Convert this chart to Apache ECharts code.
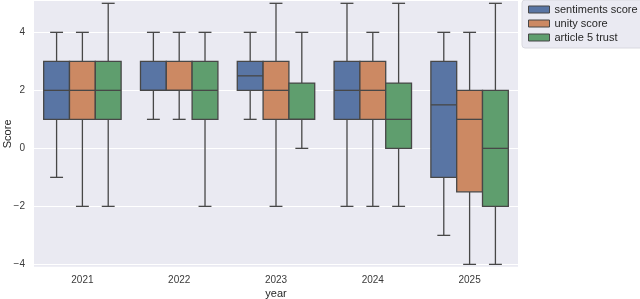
<!DOCTYPE html>
<html>
<head>
<meta charset="utf-8">
<script src="https://cdn.jsdelivr.net/npm/echarts@6/dist/echarts.min.js"></script>
<style>html,body{margin:0;padding:0;background:#fff}#c{width:640px;height:299px}</style>
</head>
<body>
<div id="c"></div>
<script>
// five-number summaries: [whisker low, Q1, median, Q3, whisker high]
const years = ['2021', '2022', '2023', '2024', '2025'];
const sentimentsScore = [[-1, 1, 2, 3, 4], [1, 2, 2, 3, 4], [1, 2, 2.5, 3, 4], [-2, 1, 2, 3, 5], [-3, -1, 1.5, 3, 4]];
const unityScore = [[-2, 1, 2, 3, 4], [1, 2, 2, 3, 4], [-2, 1, 2, 3, 5], [-2, 1, 2, 3, 4], [-4, -1.5, 1, 2, 4]];
const article5Trust = [[-2, 1, 2, 3, 5], [-2, 1, 2, 3, 4], [0, 1, 1, 2.25, 4], [-2, 0, 1, 2.25, 5], [-4, -2, 0, 2, 5]];
const seriesNames = ['sentiments score', 'unity score', 'article 5 trust'];
const yTicks = [-4, -2, 0, 2, 4];

const colors = ['#5975a4', '#cc8963', '#5f9e6e'];
const lineColor = '#474747';
const allSeries = [sentimentsScore, unityScore, article5Trust];

function makeRender(k, n) {
  return function (params, api) {
    const ci = api.value(0);
    const bw = api.size([1, 0])[0];
    const w = bw * 0.8 / n;
    const cx = api.coord([ci, 0])[0] + (k - (n - 1) / 2) * w;
    const y = i => api.coord([ci, api.value(i)])[1];
    const lo = y(1), q1 = y(2), med = y(3), q3 = y(4), hi = y(5);
    const cap = w / 4;
    const ls = { stroke: lineColor, lineWidth: 1.3 };
    return {
      type: 'group',
      children: [
        { type: 'line', shape: { x1: cx, y1: q3, x2: cx, y2: hi }, style: ls },
        { type: 'line', shape: { x1: cx, y1: q1, x2: cx, y2: lo }, style: ls },
        { type: 'line', shape: { x1: cx - cap, y1: hi, x2: cx + cap, y2: hi }, style: ls },
        { type: 'line', shape: { x1: cx - cap, y1: lo, x2: cx + cap, y2: lo }, style: ls },
        { type: 'rect', shape: { x: cx - w / 2, y: q3, width: w, height: q1 - q3 },
          style: { fill: colors[k], stroke: lineColor, lineWidth: 1.3 } },
        { type: 'line', shape: { x1: cx - w / 2, y1: med, x2: cx + w / 2, y2: med }, style: ls }
      ]
    };
  };
}

const series = allSeries.map((arr, k) => ({
  name: seriesNames[k],
  type: 'custom',
  renderItem: makeRender(k, allSeries.length),
  itemStyle: { color: colors[k], borderColor: lineColor, borderWidth: 1 },
  encode: { x: 0, y: [1, 2, 3, 4, 5] },
  data: arr.map((v, i) => [i].concat(v))
}));

const chart = echarts.init(document.getElementById('c'), null, { renderer: 'canvas' });
chart.setOption({
  animation: false,
  backgroundColor: '#ffffff',
  textStyle: { fontFamily: 'Liberation Sans, Arial, sans-serif' },
  grid: { left: 34, right: 122, top: 1, bottom: 32.3, show: true, backgroundColor: '#eaeaf2', borderWidth: 0,
    containLabel: false, outerBoundsMode: 'none' },
  legend: {
    orient: 'vertical', left: 522, top: 0,
    padding: [4, 8, 5, 6],
    itemWidth: 21, itemHeight: 7, itemGap: 3,
    icon: 'rect',
    backgroundColor: '#eaeaf2', borderColor: '#d9d9e0', borderWidth: 1, borderRadius: 3,
    textStyle: { fontSize: 11, color: '#262626', fontFamily: 'Liberation Sans, Arial, sans-serif' },
    itemStyle: { borderColor: lineColor, borderWidth: 1 },
    data: seriesNames
  },
  xAxis: {
    type: 'category', data: years,
    axisLine: { show: false }, axisTick: { show: false }, splitLine: { show: false },
    axisLabel: { fontSize: 10, color: '#3a3a3a', margin: 9 },
    name: 'year', nameLocation: 'middle', nameGap: 22, nameMoveOverlap: false,
    nameTextStyle: { fontSize: 11, color: '#262626' }
  },
  yAxis: {
    type: 'value', min: -4.08, max: 5.08,
    axisLine: { show: false },
    axisTick: { show: false, customValues: yTicks },
    axisLabel: { fontSize: 10, color: '#3a3a3a', margin: 9, customValues: yTicks,
      formatter: v => (v < 0 ? '\u2212' + Math.abs(v) : String(v)) },
    splitLine: { show: true, lineStyle: { color: '#ffffff', width: 1.2 } },
    name: 'Score', nameLocation: 'middle', nameGap: 21, nameMoveOverlap: false,
    nameTextStyle: { fontSize: 11, color: '#262626' }
  },
  series: series
});
</script>
</body>
</html>
